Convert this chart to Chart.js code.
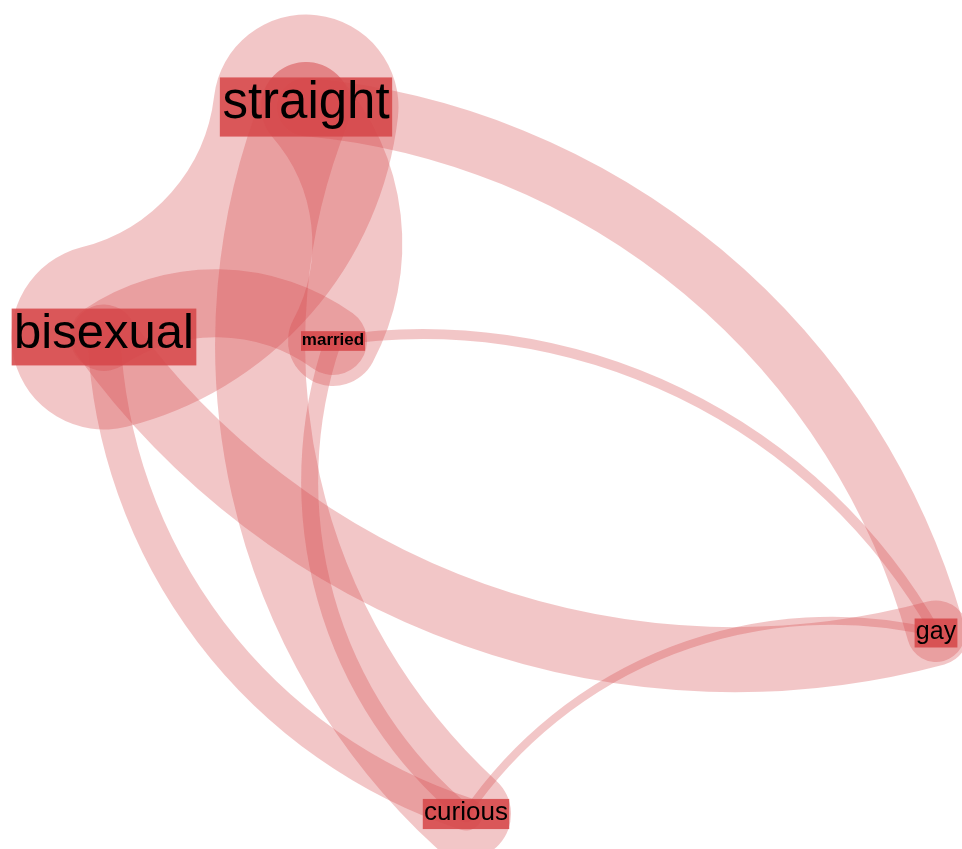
<!DOCTYPE html>
<html>
<head>
<meta charset="utf-8">
<style>
  html, body { margin: 0; padding: 0; background: #fff; overflow: hidden; }
  #wrap { width: 962px; height: 849px; }
</style>
<script src="https://cdn.jsdelivr.net/npm/chart.js"></script>
</head>
<body>
<div id="wrap"><canvas id="graph"></canvas></div>
<script>
// nodes of the graph (position in layout units, label weight)
const nodeNames = ["straight", "bisexual", "married", "gay", "curious"]
const nodeX = [306, 104, 333, 936, 466]
const nodeY = [107, 337, 341, 633, 814]
const nodeWeight = [51, 49, 17, 25, 26]

// links, listed in the direction they are drawn (clockwise arcs)
const linkFrom = ["straight", "straight", "curious", "bisexual", "gay", "straight", "curious", "curious", "married", "curious"]
const linkTo = ["bisexual", "married", "straight", "married", "bisexual", "gay", "bisexual", "married", "gay", "gay"]
const linkWeight = [185, 90, 90, 68, 65, 58, 33, 17, 10, 8]

const linkColor = "rgba(214, 72, 74, 0.31)"
const labelColor = "rgba(214, 72, 74, 0.88)"
const arcRatio = 0.88   // arc radius / node distance

function nodePixel(chart, name) {
    const i = nodeNames.indexOf(name)
    return {
        x: chart.scales.x.getPixelForValue(nodeX[i]),
        y: chart.scales.y.getPixelForValue(nodeY[i])
    }
}

const linksPlugin = {
    id: "links",
    beforeDatasetsDraw(chart) {
        const ctx = chart.ctx
        ctx.save()
        ctx.strokeStyle = linkColor
        ctx.lineCap = "round"
        linkFrom.forEach((from, i) => {
            const a = nodePixel(chart, from)
            const b = nodePixel(chart, linkTo[i])
            const dx = b.x - a.x
            const dy = b.y - a.y
            const d = Math.hypot(dx, dy)
            const r = d * arcRatio
            const h = Math.sqrt(r * r - d * d / 4)
            const cx = (a.x + b.x) / 2 - dy / d * h
            const cy = (a.y + b.y) / 2 + dx / d * h
            const a0 = Math.atan2(a.y - cy, a.x - cx)
            const a1 = Math.atan2(b.y - cy, b.x - cx)
            ctx.lineWidth = linkWeight[i]
            ctx.beginPath()
            ctx.arc(cx, cy, r, a0, a1, false)
            ctx.stroke()
        })
        ctx.restore()
    },
    afterDatasetsDraw(chart) {
        const ctx = chart.ctx
        ctx.save()
        nodeNames.forEach((name, i) => {
            const p = nodePixel(chart, name)
            const size = nodeWeight[i]
            const bold = size < 20 ? "bold " : ""
            ctx.font = bold + size + "px 'Liberation Sans', Arial, sans-serif"
            const w = ctx.measureText(name).width + size * 0.1
            const h = size * 1.16
            ctx.fillStyle = labelColor
            ctx.fillRect(p.x - w / 2, p.y - h / 2, w, h)
            ctx.fillStyle = "#000"
            ctx.textAlign = "center"
            ctx.textBaseline = "alphabetic"
            ctx.fillText(name, p.x, p.y + size * 0.22)
        })
        ctx.restore()
    }
}

new Chart("graph", {
    type: "scatter",
    data: {
        datasets: [{
            data: nodeNames.map((n, i) => ({ x: nodeX[i], y: nodeY[i] })),
            pointRadius: 0
        }]
    },
    options: {
        responsive: true,
        maintainAspectRatio: false,
        animation: false,
        layout: { padding: 0 },
        plugins: { legend: { display: false }, tooltip: { enabled: false } },
        scales: {
            x: { type: "linear", min: 0, max: 962, display: false },
            y: { type: "linear", min: 0, max: 849, reverse: true, display: false }
        }
    },
    plugins: [linksPlugin]
})
</script>
</body>
</html>
